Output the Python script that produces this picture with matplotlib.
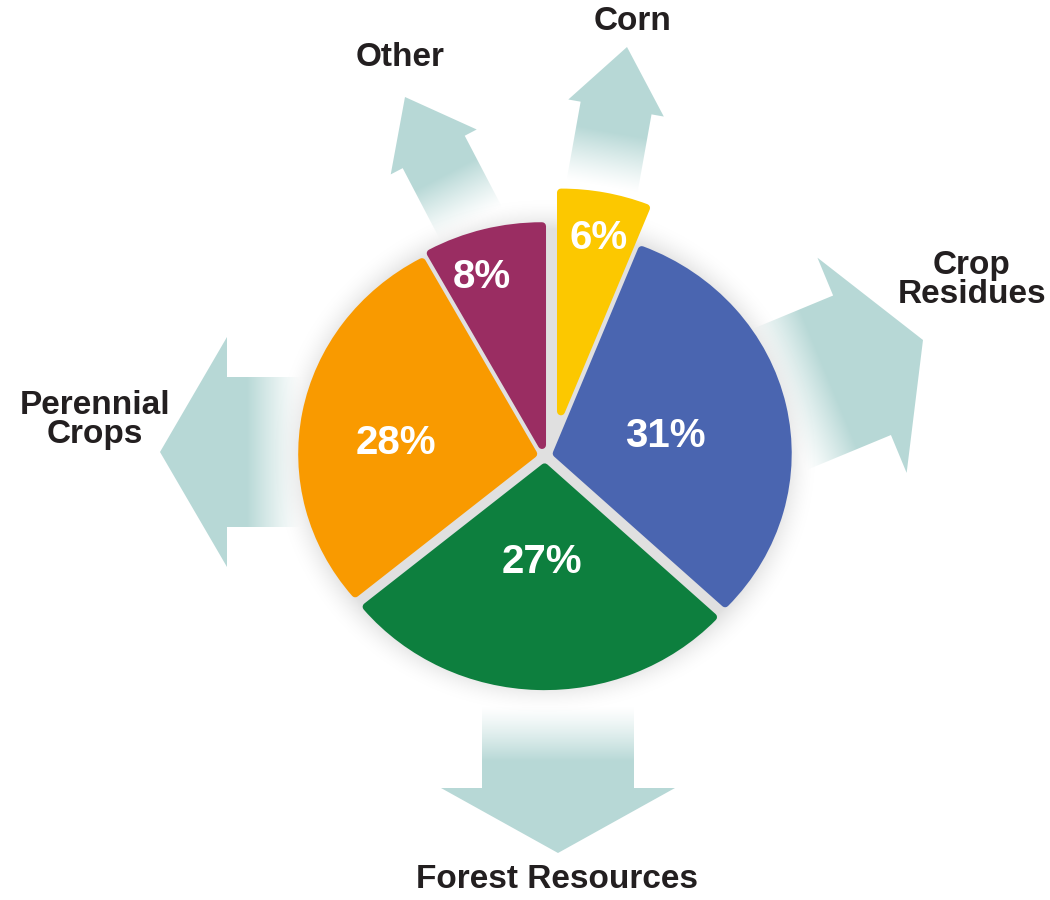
import numpy as np
import matplotlib
matplotlib.use("Agg")
import matplotlib.pyplot as plt
from matplotlib.patches import Polygon
from matplotlib.transforms import Affine2D

# data
labels = ['Corn', 'Crop\nResidues', 'Forest Resources', 'Perennial\nCrops', 'Other']
values = [6, 31, 27, 28, 8]
colors = ['#fcc800', '#4a65b0', '#0d7f3e', '#f99a00', '#9a2d62']

W, H = 1050, 900
fig = plt.figure(figsize=(W / 100, H / 100), dpi=100)
ax = fig.add_axes([0, 0, 1, 1])

def up(x, y):
    # pixel (y down) -> axes coords (y up)
    return x, H - y

cx, cy = up(545, 456)
R = 231
k = 0.947          # pie is slightly squashed vertically
lw_px = 8
explode = [48, 12, 12, 12, 12]   # px
arrow_col = np.array([0.72, 0.85, 0.84])
txt_col = '#231f20'
label_font = ['Liberation Sans', 'DejaVu Sans']

# arrows: tip (px), direction (px, y down), head length, head width, shaft width, length
arrows = [
    ((627, 47), (0.176, -0.984), 62, 97, 72, 145),
    ((923, 340), (0.924, -0.383), 66, 233, 151, 160),
    ((558, 853), (0.0, 1.0), 65, 234, 152, 150),
    ((160, 452), (-1.0, 0.0), 67, 230, 150, 145),
    ((405, 97), (-0.463, -0.886), 62, 97, 70, 145),
]

for tip, d, hl, hw, sw, L in arrows:
    T = np.array(up(*tip), dtype=float)
    d = np.array([d[0], -d[1]], dtype=float)
    d /= np.hypot(*d)
    n = np.array([-d[1], d[0]])
    B = T - hl * d
    C = T - L * d
    verts = [T, B + hw / 2 * n, B + sw / 2 * n, C + sw / 2 * n,
             C - sw / 2 * n, B - sw / 2 * n, B - hw / 2 * n]
    verts = np.array(verts)
    x0, y0 = verts.min(axis=0) - 2
    x1, y1 = verts.max(axis=0) + 2
    xs = np.linspace(x0, x1, int(x1 - x0))
    ys = np.linspace(y0, y1, int(y1 - y0))
    X, Y = np.meshgrid(xs, ys)
    s = (X - C[0]) * d[0] + (Y - C[1]) * d[1]
    a = np.clip((s - 3) / 55, 0, 1) ** 1.2
    img = np.zeros(X.shape + (4,))
    img[..., :3] = arrow_col
    img[..., 3] = a
    poly = Polygon(verts, closed=True, transform=ax.transData)
    im = ax.imshow(img, extent=(x0, x1, y0, y1), origin='lower', zorder=1,
                   interpolation='bilinear')
    im.set_clip_path(poly)

# soft grey disc / shadow behind the pie
sx = np.arange(cx - 290, cx + 290)
sy = np.arange(cy - 290, cy + 290)
SX, SY = np.meshgrid(sx, sy)
r = np.hypot(SX - cx, (SY - cy) / k)
sh = np.clip((272 - r) / 32, 0, 1) ** 1.8
simg = np.zeros(SX.shape + (4,))
simg[..., :3] = 0.88
simg[..., 3] = sh
ax.imshow(simg, extent=(sx[0], sx[-1], sy[0], sy[-1]), origin='lower', zorder=2,
          interpolation='bilinear')

wedges, _ = ax.pie(values, colors=colors, startangle=90, counterclock=False,
                   radius=R, center=(cx, cy), explode=explode, frame=True,
                   wedgeprops=dict(linewidth=lw_px * 0.72, joinstyle='round'))
squash = Affine2D().translate(-cx, -cy).scale(1, k).translate(cx, cy) + ax.transData
for w in wedges:
    w.set_edgecolor(w.get_facecolor())
    w.set_zorder(3)
    w.set_transform(squash)
# corn slice sits a little further right
c0 = wedges[0].center
wedges[0].set_center((c0[0] + 7, c0[1]))

# percentage labels: distance from pie centre (px) and angle nudge (deg)
pct_dist = [224, 122, 106, 150, 190]
pct_nudge = [-3, -3, 0, 6, 5]
for w, v, dist, nud in zip(wedges, values, pct_dist, pct_nudge):
    mid = np.deg2rad((w.theta1 + w.theta2) / 2 + nud)
    ax.text(cx + dist * np.cos(mid), cy + dist * np.sin(mid), f'{v}%',
            ha='center', va='center', color='white', fontsize=29,
            fontweight='bold', family=['Liberation Sans', 'DejaVu Sans'], zorder=5)

# category labels
label_pos = [(633, 22), (972, 280), (557, 880), (95, 420), (400, 57)]
for lab, (px, py) in zip(labels, label_pos):
    x, y = up(px, py)
    ax.text(x, y, lab, ha='center', va='center', color=txt_col, fontsize=24,
            fontweight='bold', family=label_font, linespacing=0.95, zorder=5)

ax.set_xlim(0, W)
ax.set_ylim(0, H)
ax.set_aspect('equal')
ax.axis('off')

fig.savefig('out.png', dpi=100)
